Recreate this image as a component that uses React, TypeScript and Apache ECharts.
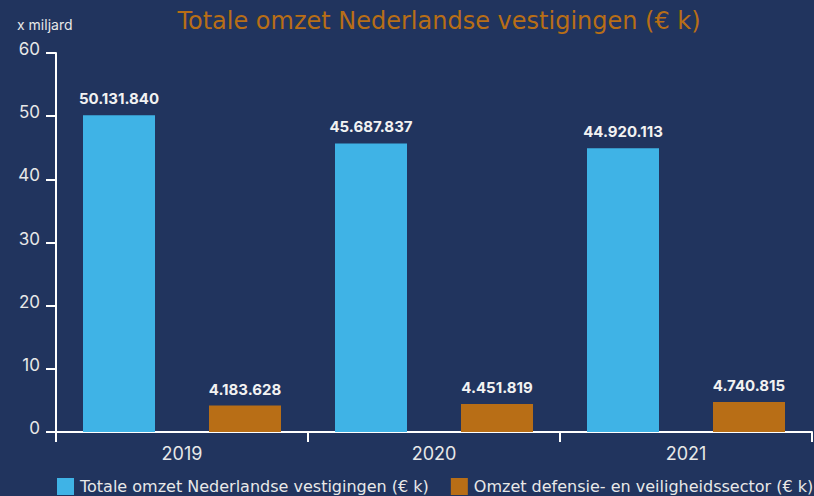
import React, { useEffect, useRef } from "react";
import * as echarts from "echarts";

const categories = ["2019", "2020", "2021"];
const totalOmzet = [50131840, 45687837, 44920113];
const defensieOmzet = [4183628, 4451819, 4740815];
const yTicks = [0, 10, 20, 30, 40, 50, 60];
const seriesNames = [
  "Totale omzet Nederlandse vestigingen (€ k)",
  "Omzet defensie- en veiligheidssector (€ k)",
];

const FONT = "Inter";
const WIDE = "DejaVu Sans";
const BG = "#21345E";
const BLUE = "#3FB3E6";
const ORANGE = "#B86E16";

function fmt(n: number): string {
  return String(n).replace(/\B(?=(\d{3})+(?!\d))/g, ".");
}

export default function App() {
  const ref = useRef<HTMLDivElement>(null);
  useEffect(() => {
    if (!ref.current) return;
    const chart = echarts.init(ref.current, null, { renderer: "svg" });
    const label = {
      show: true,
      position: "top" as const,
      distance: 9,
      color: "#F2F2F2",
      fontFamily: FONT,
      fontWeight: "bold" as const,
      fontSize: 15,
      formatter: (p: any) => fmt(p.data.raw),
    };
    chart.setOption({
      animation: false,
      backgroundColor: BG,
      textStyle: { fontFamily: FONT },
      title: {
        text: "Totale omzet Nederlandse vestigingen (€ k)",
        left: 434,
        textAlign: "center",
        top: 4,
        textStyle: { color: "#B86E16", fontSize: 24, fontWeight: "normal", fontFamily: WIDE },
      },
      graphic: [
        {
          type: "text",
          left: 17,
          top: 17,
          style: { text: "x miljard", fill: "#E8E8E8", fontSize: 14, fontFamily: FONT },
        },
      ],
      legend: {
        left: 57,
        top: 478,
        padding: 0,
        itemWidth: 17,
        itemHeight: 17,
        itemGap: 22,
        icon: "rect",
        textStyle: { color: "#E8E8E8", fontSize: 16, fontFamily: WIDE, padding: [0, 0, 0, 1] },
        data: seriesNames,
      },
      grid: { left: 56, right: 2, top: 53, bottom: 64, containLabel: false },
      xAxis: {
        type: "category",
        data: categories,
        axisLine: { show: true, lineStyle: { color: "#FFFFFF", width: 2 } },
        axisTick: { show: true, alignWithLabel: false, length: 10, lineStyle: { color: "#FFFFFF", width: 2 } },
        axisLabel: { color: "#E8E8E8", fontSize: 18, fontFamily: FONT, margin: 12 },
      },
      yAxis: {
        type: "value",
        min: 0,
        max: 60,
        interval: 10,
        axisLine: { show: true, lineStyle: { color: "#FFFFFF", width: 2 } },
        axisTick: { show: true, length: 10, lineStyle: { color: "#FFFFFF", width: 2 } },
        axisLabel: {
          color: "#E8E8E8",
          fontSize: 17,
          fontFamily: FONT,
          margin: 16,
          verticalAlign: "bottom",
          lineHeight: 8,
          formatter: (v: number) => (yTicks.includes(v) ? String(v) : ""),
        },
        splitLine: { show: false },
      },
      series: [
        {
          name: seriesNames[0],
          type: "bar",
          barWidth: 72,
          barGap: "75%",
          itemStyle: { color: BLUE },
          label,
          data: totalOmzet.map((v) => ({ value: v / 1e6, raw: v })),
        },
        {
          name: seriesNames[1],
          type: "bar",
          barWidth: 72,
          barGap: "75%",
          itemStyle: { color: ORANGE },
          label,
          data: defensieOmzet.map((v) => ({ value: v / 1e6, raw: v })),
        },
      ],
    });
    return () => chart.dispose();
  }, []);
  return <div ref={ref} style={{ width: 814, height: 496, position: "absolute", left: 0, top: 0 }} />;
}
